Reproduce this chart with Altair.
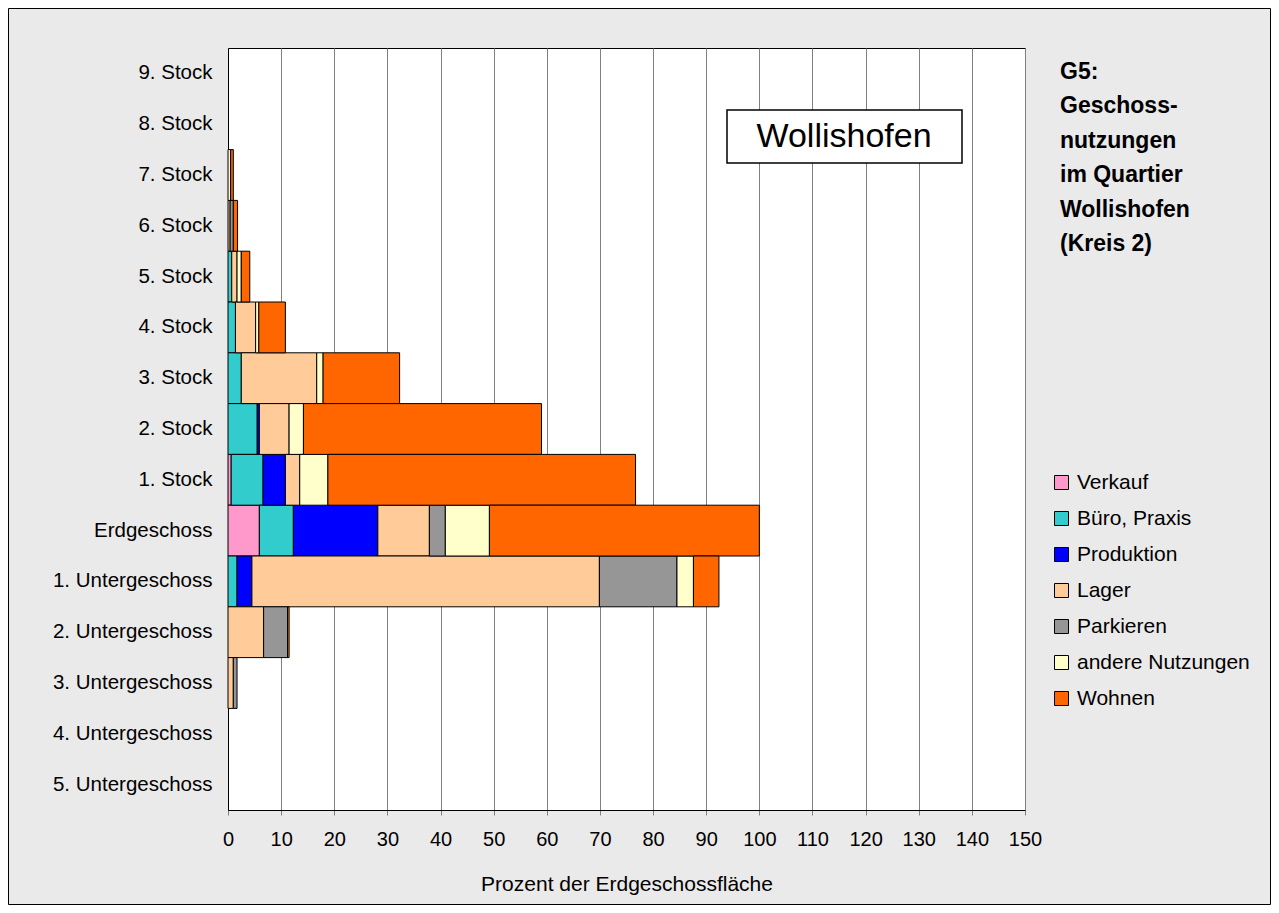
import altair as alt
import pandas as pd

floors = ["9. Stock", "8. Stock", "7. Stock", "6. Stock", "5. Stock", "4. Stock",
          "3. Stock", "2. Stock", "1. Stock", "Erdgeschoss", "1. Untergeschoss",
          "2. Untergeschoss", "3. Untergeschoss", "4. Untergeschoss", "5. Untergeschoss"]

series = ["Verkauf", "Büro, Praxis", "Produktion", "Lager", "Parkieren",
          "andere Nutzungen", "Wohnen"]
colors = ["#FF99CC", "#33CCCC", "#0000FF", "#FFCC99", "#969696", "#FFFFCC", "#FF6600"]

verkauf =    [0, 0, 0,   0,   0,   0,   0,    0,    0.6,  5.9,  0,    0,   0,   0, 0]
buero =      [0, 0, 0,   0,   0.7, 1.4, 2.5,  5.5,  6.0,  6.4,  1.7,  0,   0,   0, 0]
produktion = [0, 0, 0,   0,   0,   0,   0,    0.4,  4.2,  15.9, 2.8,  0,   0,   0, 0]
lager =      [0, 0, 0,   0.4, 1.0, 3.8, 14.2, 5.6,  2.7,  9.7,  65.4, 6.7, 1.0, 0, 0]
parkieren =  [0, 0, 0,   0.6, 0,   0,   0,    0,    0,    3.0,  14.6, 4.5, 0.7, 0, 0]
andere =     [0, 0, 0.5, 0,   0.8, 0.6, 1.2,  2.7,  5.3,  8.3,  3.1,  0,   0,   0, 0]
wohnen =     [0, 0, 0.5, 0.8, 1.6, 5.0, 14.4, 44.8, 57.9, 50.8, 4.8,  0.3, 0,   0, 0]

x_ticks = list(range(0, 151, 10))

title_lines = ["G5:", "Geschoss-", "nutzungen", "im Quartier", "Wollishofen", "(Kreis 2)"]
box_label = "Wollishofen"

rows = []
for si, (name, vals) in enumerate(zip(series, [verkauf, buero, produktion, lager,
                                                parkieren, andere, wohnen])):
    for f, v in zip(floors, vals):
        if v > 0:
            rows.append({"Geschoss": f, "Nutzung": name, "Wert": v, "ord": si})
df = pd.DataFrame(rows)

FONT = "Liberation Sans"

bars = alt.Chart(df).mark_bar(stroke="black", strokeWidth=1, opacity=1).encode(
    y=alt.Y("Geschoss:N", sort=floors,
            scale=alt.Scale(domain=floors, paddingInner=0, paddingOuter=0),
            axis=alt.Axis(title=None, ticks=False, labelPadding=16, labelFontSize=20.5,
                          labelFont=FONT, labelColor="black", domainColor="black",
                          grid=False, labelLimit=400)),
    x=alt.X("Wert:Q", stack="zero",
            scale=alt.Scale(domain=[0, 150], nice=False),
            axis=alt.Axis(values=x_ticks, title="Prozent der Erdgeschossfläche",
                          titleFont=FONT, titleFontSize=21, titleFontWeight="normal",
                          titleColor="black", titlePadding=24,
                          labelFont=FONT, labelFontSize=20, labelColor="black",
                          labelFlush=False, labelOverlap=False,
                          labelPadding=14, tickSize=5, tickColor="#808080",
                          domainColor="black", grid=True, gridColor="#808080",
                          gridWidth=1)),
    color=alt.Color("Nutzung:N",
                    scale=alt.Scale(domain=series, range=colors),
                    legend=alt.Legend(title=None, orient="none", legendX=823, legendY=424,
                                      symbolType="square", symbolSize=196,
                                      symbolStrokeColor="black", symbolStrokeWidth=1,
                                      symbolOpacity=1, labelLimit=400,
                                      labelFont=FONT, labelFontSize=21, labelColor="black",
                                      labelOffset=5, rowPadding=14)),
    order=alt.Order("ord:Q"),
)

box_df = pd.DataFrame({"t": [box_label]})
box = alt.Chart(box_df).mark_rect(fill="white", stroke="black", strokeWidth=1.5).encode(
    x=alt.value(499), x2=alt.value(734), y=alt.value(62), y2=alt.value(115))
box_text = alt.Chart(box_df).mark_text(font=FONT, fontSize=34, color="black",
                                       align="center", baseline="middle").encode(
    text="t:N", x=alt.value(616), y=alt.value(89))

title_df = pd.DataFrame({"t": ["\n".join(title_lines)]})
title = alt.Chart(title_df).mark_text(font=FONT, fontSize=23, fontWeight="bold",
                                      color="black", align="left", baseline="alphabetic",
                                      lineBreak="\n", lineHeight=34.4).encode(
    text="t:N", x=alt.value(832), y=alt.value(31))

frame = alt.Chart(box_df).mark_rect(fill=None, stroke="black", strokeWidth=1,
                                    clip=False).encode(
    x=alt.value(-219.5), x2=alt.value(1042.5), y=alt.value(-39.5), y2=alt.value(856.5))

chart = alt.layer(frame, bars, box, box_text, title).properties(
    width=797, height=762,
    autosize=alt.AutoSizeParams(type="none"),
    padding={"left": 220, "top": 40, "right": 246, "bottom": 95},
    background="#EAEAEA",
).configure_view(fill="white", stroke="black", strokeWidth=1)

chart.save("out.html", embed_options={"renderer": "svg", "actions": False})
